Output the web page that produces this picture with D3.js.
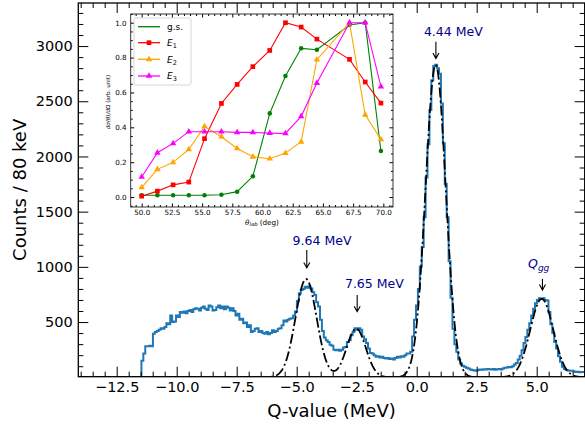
<!DOCTYPE html>
<html><head><meta charset="utf-8">
<script src="https://cdn.jsdelivr.net/npm/d3@7"></script>
<style>
body{margin:0;background:#fff}
svg{display:block}
text{font-family:"DejaVu Sans",sans-serif}
</style>
</head><body>
<svg id="c" width="585" height="427"></svg>
<script>
// ---------- main spectrum data ----------
const binStart = -11.47;   // MeV, lower edge of first non-empty bin
const binWidth = 0.08;     // 80 keV
const counts = [
  150, 215, 280, 280, 285, 280, 395, 410, 420, 430,
  445, 440, 455, 490, 480, 560, 500, 505, 560, 545,
  590, 585, 595, 580, 600, 610, 590, 615, 625, 620,
  605, 630, 640, 620, 610, 650, 640, 605, 610, 635,
  650, 625, 640, 615, 640, 630, 605, 625, 600, 560,
  575, 520, 530, 490, 495, 455, 470, 410, 420, 440,
  445, 410, 420, 400, 395, 410, 390, 400, 425, 410,
  420, 440, 445, 470, 515, 505, 520, 530, 535, 560,
  595, 690, 760, 790, 800, 820, 810, 825, 805, 770,
  745, 680, 640, 520, 420, 360, 335, 320, 295, 285,
  250, 245, 250, 240, 250, 270, 275, 320, 335, 380,
  410, 445, 430, 445, 430, 370, 345, 310, 260, 220,
  215, 200, 185, 190, 180, 185, 175, 170, 175, 165,
  170, 160, 175, 185, 180, 190, 185, 200, 215, 215,
  230, 370, 520, 650, 800, 1000, 1180, 1450, 1810, 2110,
  2420, 2690, 2820, 2830, 2800, 2750, 2480, 2120, 1750, 1450,
  1050, 720, 440, 300, 230, 160, 125, 105, 95, 85,
  80, 70, 65, 62, 60, 65, 70, 68, 72, 70,
  75, 72, 70, 74, 68, 72, 75, 70, 80, 85,
  88, 92, 90, 100, 115, 130, 160, 195, 245, 310,
  365, 430, 490, 560, 620, 670, 700, 715, 710, 715,
  700, 695, 590, 480, 400, 320, 260, 190, 140, 95,
  75, 65, 62, 60, 58, 52, 48, 50, 46, 48, 47
];
// Gaussian fit components (centroid MeV, amplitude counts, sigma MeV)
const fitCentroids  = [-4.61, -2.52, 0.79, 5.21];
const fitAmplitudes = [890, 440, 2830, 710];
const fitSigmas     = [0.44, 0.40, 0.42, 0.48];

const xTicks = [-12.5, -10.0, -7.5, -5.0, -2.5, 0.0, 2.5, 5.0];
const yTicks = [500, 1000, 1500, 2000, 2500, 3000];

const peakLabels  = ["9.64 MeV", "7.65 MeV", "4.44 MeV", "Qgg"];
const labelQ      = [-5.17, -2.99, 0.30, 4.64];
const labelCounts = [1195, 809, 3092, 990];
const arrowQ      = [-4.58, -2.48, 0.80, 5.24];
const arrowTop    = [1153, 745, 3038, 890];
const arrowBottom = [990, 594, 2887, 790];

// ---------- inset data ----------
const angles = [50.0, 51.3, 52.6, 53.9, 55.2, 56.6, 57.9, 59.2, 60.6, 61.9, 63.2, 64.5, 67.2, 68.5, 69.8];
const gsValues = [0.010, 0.010, 0.010, 0.010, 0.010, 0.013, 0.031, 0.119, 0.480, 0.694, 0.853, 0.845, 0.987, 1.000, 0.264];
const e1Values = [0.005, 0.034, 0.070, 0.086, 0.335, 0.537, 0.646, 0.748, 0.841, 1.000, 0.975, 0.906, 0.790, 0.660, 0.539];
const e2Values = [0.055, 0.159, 0.199, 0.273, 0.405, 0.346, 0.279, 0.231, 0.220, 0.252, 0.317, 0.788, 1.000, 0.472, 0.331];
const e3Values = [0.115, 0.254, 0.308, 0.375, 0.375, 0.375, 0.371, 0.371, 0.367, 0.365, 0.463, 0.654, 1.000, 1.000, 0.633];
const insetXTicks = [50.0, 52.5, 55.0, 57.5, 60.0, 62.5, 65.0, 67.5, 70.0];
const insetYTicks = [0.0, 0.2, 0.4, 0.6, 0.8, 1.0];
const seriesNames = ["g.s.", "E1", "E2", "E3"];

// ---------- drawing ----------
const svg = d3.select("#c");
const M = {l: 78.3, r: 584.7, t: 3, b: 376.7};
const x = d3.scaleLinear().domain([-14.1, 7.0]).range([M.l, M.r]);
const y = d3.scaleLinear().domain([5, 3390]).range([M.b, M.t]);

svg.append("defs").append("clipPath").attr("id", "clipMain")
  .append("rect").attr("x", M.l).attr("y", M.t).attr("width", M.r - M.l).attr("height", M.b - M.t);

const plot = svg.append("g").attr("clip-path", "url(#clipMain)");

// histogram
const histPts = [[x.domain()[0], 0]];
counts.forEach((c, i) => histPts.push([binStart + i * binWidth, c]));
histPts.push([binStart + counts.length * binWidth, counts[counts.length - 1]]);
plot.append("path")
  .attr("d", d3.line().x(d => x(d[0])).y(d => y(d[1])).curve(d3.curveStepAfter)(histPts))
  .attr("fill", "none").attr("stroke", "#1f77b4").attr("stroke-width", 2);

// fit
const fitPts = [];
for (let q = x.domain()[0]; q <= x.domain()[1] + 1e-9; q += 0.02) {
  let s = 0;
  for (let k = 0; k < fitCentroids.length; k++) {
    const d = (q - fitCentroids[k]) / fitSigmas[k];
    s += fitAmplitudes[k] * Math.exp(-0.5 * d * d);
  }
  fitPts.push([q, s]);
}
plot.append("path")
  .attr("d", d3.line().x(d => x(d[0])).y(d => y(d[1]))(fitPts))
  .attr("fill", "none").attr("stroke", "#000").attr("stroke-width", 1.8)
  .attr("stroke-dasharray", "10,3,2,3");

// axes (inward ticks)
function styleAxis(g, fs) {
  g.select(".domain").remove();
  g.selectAll("line").attr("stroke", "#000").attr("stroke-width", 1);
  g.selectAll("text").attr("font-size", fs).attr("fill", "#000").attr("font-family", "DejaVu Sans");
}
const xMinor = d3.range(-14.0, 7.01, 0.5).filter(v => !xTicks.some(t => Math.abs(t - v) < 1e-6));
const yMinor = d3.range(100, 3390, 100).filter(v => v % 500 !== 0);

svg.append("g").attr("transform", `translate(0,${M.b})`)
  .call(d3.axisBottom(x).tickValues(xTicks).tickSize(-10).tickPadding(5).tickFormat(d3.format(".1f")))
  .call(g => styleAxis(g, 14.5));
svg.append("g").attr("transform", `translate(0,${M.b})`)
  .call(d3.axisBottom(x).tickValues(xMinor).tickSize(-5).tickFormat(""))
  .call(g => styleAxis(g, 10));
svg.append("g").attr("transform", `translate(0,${M.t})`)
  .call(d3.axisTop(x).tickValues(xTicks).tickSize(-10).tickFormat(""))
  .call(g => styleAxis(g, 10));
svg.append("g").attr("transform", `translate(0,${M.t})`)
  .call(d3.axisTop(x).tickValues(xMinor).tickSize(-5).tickFormat(""))
  .call(g => styleAxis(g, 10));
svg.append("g").attr("transform", `translate(${M.l},0)`)
  .call(d3.axisLeft(y).tickValues(yTicks).tickSize(-10).tickPadding(5.6).tickFormat(d3.format("d")))
  .call(g => styleAxis(g, 14.5));
svg.append("g").attr("transform", `translate(${M.l},0)`)
  .call(d3.axisLeft(y).tickValues(yMinor).tickSize(-5).tickFormat(""))
  .call(g => styleAxis(g, 10));
svg.append("g").attr("transform", `translate(${M.r},0)`)
  .call(d3.axisRight(y).tickValues(yTicks).tickSize(-10).tickFormat(""))
  .call(g => styleAxis(g, 10));
svg.append("g").attr("transform", `translate(${M.r},0)`)
  .call(d3.axisRight(y).tickValues(yMinor).tickSize(-5).tickFormat(""))
  .call(g => styleAxis(g, 10));

svg.append("rect").attr("x", M.l).attr("y", M.t).attr("width", M.r - M.l).attr("height", M.b - M.t)
  .attr("fill", "none").attr("stroke", "#000").attr("stroke-width", 1.3);

// axis labels
svg.append("text").attr("x", (M.l + M.r) / 2).attr("y", 416.5).attr("text-anchor", "middle")
  .attr("font-size", 18).text("Q-value (MeV)");
svg.append("text").attr("transform", `translate(25.5,${(M.t + M.b) / 2}) rotate(-90)`)
  .attr("text-anchor", "middle").attr("font-size", 18).text("Counts / 80 keV");

// annotations
const annColor = "#00008b";
peakLabels.forEach((lab, i) => {
  const t = svg.append("text").attr("x", x(labelQ[i])).attr("y", y(labelCounts[i]))
    .attr("font-size", 12.5).attr("fill", annColor);
  if (lab === "Qgg") {
    t.append("tspan").attr("font-style", "italic").text("Q");
    t.append("tspan").attr("font-style", "italic").attr("font-size", 9).attr("dy", 3).text("gg");
  } else t.text(lab);
  const ax = x(arrowQ[i]), y0 = y(arrowTop[i]), y1 = y(arrowBottom[i]);
  svg.append("path")
    .attr("d", `M${ax},${y0}L${ax},${y1}M${ax - 3},${y1 - 5.5}L${ax},${y1}L${ax + 3},${y1 - 5.5}`)
    .attr("fill", "none").attr("stroke", "#000").attr("stroke-width", 1.1);
});

// ---------- inset ----------
const I = {l: 130.7, r: 393, t: 14, b: 207};
const xi = d3.scaleLinear().domain([49.09, 70.8]).range([I.l, I.r]);
const yi = d3.scaleLinear().domain([-0.057, 1.05]).range([I.b, I.t]);
svg.append("rect").attr("x", I.l).attr("y", I.t).attr("width", I.r - I.l).attr("height", I.b - I.t)
  .attr("fill", "#fff");

const xiMinor = d3.range(49.5, 70.8, 0.5).filter(v => !insetXTicks.some(t => Math.abs(t - v) < 1e-6));
const yiMinor = d3.range(-0.05, 1.051, 0.05).filter(v => !insetYTicks.some(t => Math.abs(t - v) < 1e-6));

svg.append("g").attr("transform", `translate(0,${I.b})`)
  .call(d3.axisBottom(xi).tickValues(insetXTicks).tickSize(-3.5).tickPadding(2.5).tickFormat(d3.format(".1f")))
  .call(g => styleAxis(g, 7.2));
svg.append("g").attr("transform", `translate(0,${I.b})`)
  .call(d3.axisBottom(xi).tickValues(xiMinor).tickSize(-2).tickFormat("")).call(g => styleAxis(g, 7));
svg.append("g").attr("transform", `translate(0,${I.t})`)
  .call(d3.axisTop(xi).tickValues(insetXTicks).tickSize(-3.5).tickFormat("")).call(g => styleAxis(g, 7));
svg.append("g").attr("transform", `translate(0,${I.t})`)
  .call(d3.axisTop(xi).tickValues(xiMinor).tickSize(-2).tickFormat("")).call(g => styleAxis(g, 7));
svg.append("g").attr("transform", `translate(${I.l},0)`)
  .call(d3.axisLeft(yi).tickValues(insetYTicks).tickSize(-3.5).tickPadding(4).tickFormat(d3.format(".1f")))
  .call(g => styleAxis(g, 7.2));
svg.append("g").attr("transform", `translate(${I.l},0)`)
  .call(d3.axisLeft(yi).tickValues(yiMinor).tickSize(-2).tickFormat("")).call(g => styleAxis(g, 7));
svg.append("g").attr("transform", `translate(${I.r},0)`)
  .call(d3.axisRight(yi).tickValues(insetYTicks).tickSize(-3.5).tickFormat("")).call(g => styleAxis(g, 7));
svg.append("g").attr("transform", `translate(${I.r},0)`)
  .call(d3.axisRight(yi).tickValues(yiMinor).tickSize(-2).tickFormat("")).call(g => styleAxis(g, 7));
svg.append("rect").attr("x", I.l).attr("y", I.t).attr("width", I.r - I.l).attr("height", I.b - I.t)
  .attr("fill", "none").attr("stroke", "#222").attr("stroke-width", 0.9);

// inset labels
const xl = svg.append("text").attr("x", 262).attr("y", 224.5).attr("text-anchor", "middle").attr("font-size", 7.2);
xl.append("tspan").attr("font-style", "italic").text("θ");
xl.append("tspan").attr("font-style", "italic").attr("font-size", 5.2).attr("dy", 1.8).text("lab");
xl.append("tspan").attr("dy", -1.8).text(" (deg)");
const yl = svg.append("text").attr("transform", `translate(109.5,102) rotate(-90)`)
  .attr("text-anchor", "middle").attr("font-size", 5.6);
yl.append("tspan").attr("font-style", "italic").text("dσ(θ)/dΩ");
yl.append("tspan").text(" (arb. unit)");

// inset series
const seriesData = [gsValues, e1Values, e2Values, e3Values];
const seriesColors = ["#008000", "#ff0000", "#ffa500", "#ff00ff"];
const seriesMarkers = ["circle", "square", "triangle", "triangle"];
const symType = {circle: d3.symbolCircle, square: d3.symbolSquare, triangle: d3.symbolTriangle};
const symSize = {circle: 16, square: 22, triangle: 18};
const ln = d3.line().x((d, i) => xi(angles[i])).y(d => yi(d));
seriesData.forEach((vals, s) => {
  svg.append("path").attr("d", ln(vals)).attr("fill", "none")
    .attr("stroke", seriesColors[s]).attr("stroke-width", 1.1);
  svg.append("g").selectAll("path").data(vals).join("path")
    .attr("transform", (d, i) => `translate(${xi(angles[i])},${yi(d)})`)
    .attr("d", d3.symbol().type(symType[seriesMarkers[s]]).size(symSize[seriesMarkers[s]]))
    .attr("fill", seriesColors[s]);
});

// inset legend
const lg = svg.append("g");
lg.append("rect").attr("x", 134).attr("y", 18).attr("width", 57).attr("height", 67).attr("rx", 2)
  .attr("fill", "#fff").attr("fill-opacity", 0.85).attr("stroke", "#ccc").attr("stroke-width", 0.8);
const rowY = [26.7, 42.7, 59.3, 76];
seriesNames.forEach((nm, s) => {
  lg.append("line").attr("x1", 138).attr("x2", 160).attr("y1", rowY[s]).attr("y2", rowY[s])
    .attr("stroke", seriesColors[s]).attr("stroke-width", 1.3);
  if (s > 0) {
    lg.append("path").attr("transform", `translate(149,${rowY[s]})`)
      .attr("d", d3.symbol().type(symType[seriesMarkers[s]]).size(symSize[seriesMarkers[s]])())
      .attr("fill", seriesColors[s]);
  }
  const t = lg.append("text").attr("x", 167).attr("y", rowY[s] + 3.2).attr("font-size", 9);
  if (s === 0) t.text(nm);
  else {
    t.append("tspan").attr("font-style", "italic").text("E");
    t.append("tspan").attr("font-size", 6.5).attr("dy", 2).text(nm.slice(1));
  }
});
</script>
</body></html>
